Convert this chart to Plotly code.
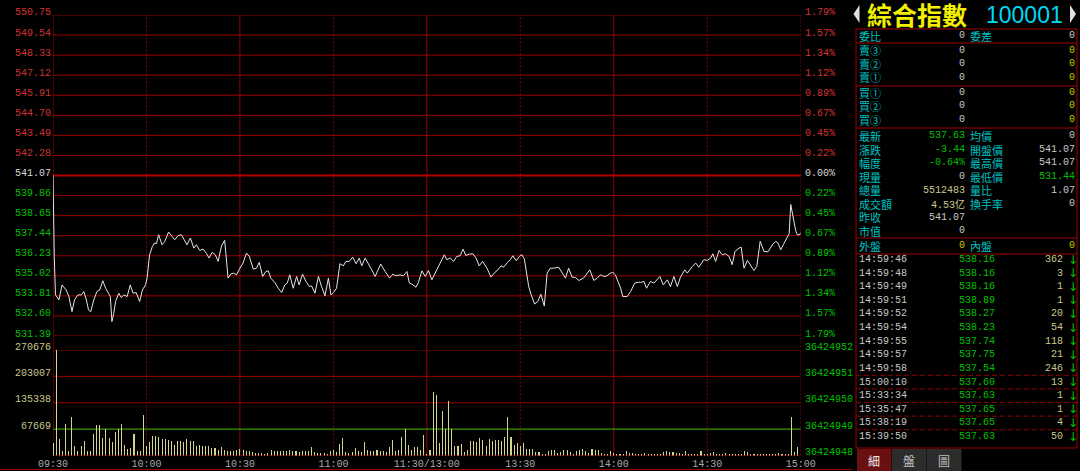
import plotly.graph_objects as go

W, H = 1080, 471


def px(x):
    return x / W


def py(y):
    return 1 - y / H


# ---------------- data ----------------
prev_close = 541.07

price_minutes = [
    0, 0.1, 0.4, 0.8, 1.2, 1.9, 2.9, 4.2, 5.1, 6.1, 6.9, 8.0, 9.1, 9.9, 10.7, 11.4, 12.1, 13.1, 14.1, 15.0,
    16.0, 16.9, 17.8, 18.4, 18.9, 19.5, 20.1, 21.1, 21.9, 22.8, 23.8, 24.8, 25.7, 26.7, 27.8, 28.7, 29.7,
    30.2, 31.0, 31.9, 32.6, 33.2, 33.9, 35.0, 35.9, 37.1, 38.2, 39.1, 40.1, 41.2, 42.1, 43.0, 44.1, 45.2,
    46.0, 47.1, 48.2, 49.2, 50.1, 51.1, 52.1, 53.0, 54.1, 55.1, 56.2, 57.1, 58.0, 58.9, 60.0, 61.0, 62.1,
    63.0, 64.3, 65.3, 66.2, 67.3, 68.3, 69.1, 69.9, 71.2, 72.3, 73.4, 74.4, 75.2, 76.0, 77.1, 78.2, 79.0,
    80.1, 81.2, 82.3, 83.0, 84.1, 85.2, 86.2, 87.3, 88.4, 89.2, 90.0, 91.0, 92.1, 93.2, 94.0, 95.1, 96.2,
    97.3, 98.3, 99.1, 100.2, 101.2, 102.3, 103.4, 104.4, 105.2, 106.6, 108.0, 109.1, 110.1, 111.4, 112.5,
    113.6, 114.4, 115.2, 116.5, 117.3, 118.4, 119.5, 120.5, 121.6, 123.0, 124.3,
    125.6, 126.4, 127.5, 128.6, 129.6, 130.7, 131.6, 132.5, 133.7, 134.8, 135.8, 136.8, 137.9, 139.3,
    140.6, 141.6, 142.8, 143.8, 144.6, 145.9, 146.8, 147.6, 148.7, 149.7, 150.5, 151.3, 152.7, 153.5,
    154.6, 155.6, 156.6, 157.7, 158.6, 159.6, 160.7, 162.3, 164.5, 165.5, 166.6, 167.7, 168.8, 170.3,
    172.3, 173.6, 174.7, 175.7, 176.8, 177.8, 178.9, 179.7, 180.5, 182.2, 182.9, 184.3, 185.4, 186.7,
    188.0, 188.6, 189.7, 190.5, 191.8, 192.9, 193.9, 194.8, 195.9, 197.2, 198.2, 199.3, 200.4, 201.4,
    202.8, 203.6, 205.2, 206.3, 207.3, 208.9, 210.0, 211.1, 211.8, 212.7, 213.8, 214.8, 215.9, 217.0,
    218.0, 218.9, 220.2, 220.9, 221.8, 222.9, 224.5, 225.0, 225.9, 227.0, 228.2, 229.5, 230.9, 232.0,
    232.7, 233.6, 234.4, 235.7, 236.3, 236.8, 237.6, 238.4, 238.9, 239.7, 240,
]

price_values = [
    541.07, 539.72, 536.19, 533.87, 533.77, 533.57, 534.47, 534.17, 533.77, 532.86, 533.57, 533.87, 533.87,
    534.07, 533.57, 532.96, 532.86, 533.57, 534.07, 534.17, 534.72, 534.27, 533.97, 533.77, 532.26, 532.76,
    533.47, 533.97, 533.71, 533.87, 533.77, 534.47, 533.97, 534.01, 533.47, 534.17, 534.47, 534.88, 536.29,
    536.79, 537.00, 536.96, 537.50, 536.89, 537.10, 537.66, 537.40, 537.20, 537.44, 537.50, 537.20, 536.89,
    537.30, 536.69, 536.89, 536.55, 536.63, 536.39, 536.09, 536.43, 536.29, 535.89, 536.83, 537.16, 534.88,
    535.14, 535.18, 535.08, 535.48, 535.79, 536.39, 536.19, 535.42, 535.48, 535.83, 534.98, 535.28, 535.32,
    534.88, 534.62, 534.27, 534.01, 534.47, 534.58, 535.08, 534.27, 534.98, 534.47, 535.12, 534.68, 534.37,
    534.41, 533.97, 534.98, 534.37, 533.81, 534.88, 533.87, 534.01, 534.27, 535.75, 535.62, 535.89, 535.89,
    536.15, 535.75, 536.09, 535.62, 536.09, 535.79, 535.38, 534.98, 535.38, 535.73, 535.28, 534.88, 535.12,
    535.02, 535.08, 535.02, 535.28, 534.58, 534.52, 534.33, 534.62, 535.32, 534.98, 535.34, 534.78, 535.28,
    535.79,
    536.29, 535.99, 536.09, 535.89, 536.19, 536.23, 536.63, 536.25, 536.33, 536.35, 536.09, 535.62, 535.89,
    535.48, 534.94, 535.18, 535.38, 535.62, 535.54, 535.83, 535.99, 536.23, 535.93, 536.19, 536.29, 536.03,
    534.37, 533.87, 533.32, 533.47, 533.91, 533.20, 535.18, 535.48, 535.48, 535.54, 534.88, 535.48, 534.94,
    534.92, 534.74, 534.88, 535.38, 534.74, 534.88, 535.08, 534.98, 535.02, 535.18, 535.22, 535.08, 534.27,
    533.77, 533.77, 534.07, 534.58, 534.64, 534.62, 534.68, 534.27, 534.68, 534.58, 534.82, 534.98, 534.47,
    534.78, 534.37, 534.98, 534.37, 534.94, 535.38, 535.18, 535.58, 535.79, 535.54, 535.99, 535.95, 536.09,
    536.35, 535.89, 536.55, 536.29, 536.35, 536.19, 535.69, 536.49, 536.69, 536.75, 535.48, 535.95, 535.48,
    535.34, 535.58, 537.10, 536.49, 536.47, 536.89, 537.10, 537.00, 536.59, 536.89, 537.30, 537.56, 539.32,
    538.45, 537.74, 537.50, 537.50, 537.63,
]

volumes = [
    32300, 270676, 43400, 12800, 81700, 12800, 97900, 23800, 11100, 25500,
    36600, 12800, 12800, 56200, 77400, 77400, 45100, 68100, 45100, 34000,
    60400, 68100, 81700, 28100, 17900, 19600, 56200, 11100, 12800, 104700,
    25500, 34000, 49400, 49400, 46800, 43400, 43400, 40800, 38300, 28100,
    38300, 36600, 34000, 43400, 36600, 38300, 23800, 28100, 23800, 23800,
    23800, 19600, 19600, 15300, 21300, 15300, 11100, 11100, 11100, 13600,
    17900, 13600, 12800, 11100, 8500, 6800, 6800, 6800, 5100, 6800,
    13600, 11100, 12800, 12800, 11100, 11100, 13600, 12800, 11100, 9400,
    11100, 11100, 12800, 22100, 8500, 6800, 6800, 6800, 5100, 12800,
    13600, 8500, 30600, 45100, 8500, 6800, 8500, 19600, 11100, 8500,
    34900, 15300, 11100, 11100, 13600, 12800, 11100, 8500, 22100, 39100,
    11100, 13600, 47700, 68100, 28100, 13600, 22100, 22100, 13600, 51900,
    5100, 15300, 162500, 154000, 32300, 114900, 68900, 138700, 68900, 23800,
    25500, 30600, 8500, 13600, 36600, 38300, 34000, 45100, 39100, 23800,
    43400, 38300, 40800, 40800, 36600, 47700, 97900, 47700, 28100, 32300,
    25500, 32300, 17000, 17900, 17900, 8500, 8500, 4300, 2600, 12800,
    13600, 13600, 6800, 8500, 15300, 15300, 9400, 4300, 11100, 13600,
    17900, 11100, 6800, 17900, 13600, 15300, 6800, 4300, 5100, 11100,
    6800, 5100, 4300, 5100, 11100, 6800, 6800, 5100, 5100, 4300,
    6800, 4300, 5100, 4300, 4300, 5100, 8500, 11100, 8500, 9400,
    6800, 6800, 4300, 11100, 5100, 4300, 5100, 5100, 11100, 5100,
    5100, 6800, 8500, 4300, 5100, 4300, 6800, 4300, 5100, 5100,
    4300, 5100, 11100, 8500, 5100, 5100, 4300, 5100, 5100, 4300,
    5100, 4300, 5100, 6800, 4300, 5100, 4300, 98700, 8500, 22100,
]

price_ticks = [550.75, 549.54, 548.33, 547.12, 545.91, 544.70, 543.49, 542.28, 541.07,
               539.86, 538.65, 537.44, 536.23, 535.02, 533.81, 532.60, 531.39]
vol_ticks = [270676, 203007, 135338, 67669, 0]
vol_right_labels = ["36424952", "36424951", "36424950", "36424949", "36424948"]
time_tick_minutes = [0, 30, 60, 90, 120, 150, 180, 210, 240]
time_tick_labels = ["09:30", "10:00", "10:30", "11:00", "11:30/13:00", "13:30", "14:00", "14:30", "15:00"]

title_name = "綜合指數"
title_code = "100001"

order_rows = [("委比", "0", "委差", "0")]
sell_rows = [("賣③", "0", "0"), ("賣②", "0", "0"), ("賣①", "0", "0")]
buy_rows = [("買①", "0", "0"), ("買②", "0", "0"), ("買③", "0", "0")]
info_rows = [
    ("最新", "537.63", "green", "均價", "0", "gray"),
    ("漲跌", "-3.44", "green", "開盤價", "541.07", "gray"),
    ("幅度", "-0.64%", "green", "最高價", "541.07", "gray"),
    ("現量", "0", "gray", "最低價", "531.44", "green"),
    ("總量", "5512483", "khaki", "量比", "1.07", "gray"),
    ("成交額", "4.53亿", "khaki", "換手率", "0", "gray"),
    ("昨收", "541.07", "gray", "", "", "gray"),
    ("市值", "0", "gray", "", "", "gray"),
]
side_row = ("外盤", "0", "內盤", "0")

tick_times = ["14:59:46", "14:59:48", "14:59:49", "14:59:51", "14:59:52", "14:59:54", "14:59:55",
              "14:59:57", "14:59:58", "15:00:10", "15:33:34", "15:35:47", "15:38:19", "15:39:50"]
tick_prices = [538.16, 538.16, 538.16, 538.89, 538.27, 538.23, 537.74, 537.75, 537.54,
               537.60, 537.63, 537.65, 537.65, 537.63]
tick_vols = [362, 3, 1, 1, 20, 54, 118, 21, 246, 13, 1, 1, 4, 50]

tabs = ["細", "盤", "圖"]

# ---------------- styles ----------------
MONO = "Liberation Mono"
CJK = "Noto Sans CJK TC"
GRID = "#9a0000"
RED = "#d23232"
GREEN = "#00c000"
GRAYT = "#c8c8c8"
KHAKI = "#c8c88c"
YELLOW = "#c8c800"
CYAN = "#00c0c0"
COLORS = {"green": GREEN, "gray": GRAYT, "khaki": KHAKI, "yellow": YELLOW}


def side_color(v):
    if v > prev_close + 1e-9:
        return RED
    if v < prev_close - 1e-9:
        return GREEN
    return "#d8d8d8"


fig = go.Figure()
fig.add_trace(go.Bar(
    x=list(range(len(volumes))), y=volumes, xaxis="x", yaxis="y2", width=0.34,
    marker=dict(color="#d4d48e", line=dict(width=0)), hoverinfo="skip"))
fig.add_trace(go.Scatter(
    x=price_minutes, y=price_values, xaxis="x", yaxis="y", mode="lines",
    line=dict(color="#e6e6e6", width=1), hoverinfo="skip"))

ann = []
shapes = []


def text(x, y, s, color, size=10, family=MONO, xanchor="left", yref="paper", yshift=0):
    ann.append(dict(x=px(x), y=(py(y) if yref == "paper" else y), xref="paper", yref=yref,
                    text=s, showarrow=False, xanchor=xanchor, yanchor="middle", yshift=yshift,
                    font=dict(family=family, size=size, color=color), borderpad=0))


def hline(y, x0, x1, color=GRID, width=1, dash="solid"):
    shapes.append(dict(type="line", xref="paper", yref="paper", x0=px(x0), x1=px(x1),
                       y0=py(y), y1=py(y), line=dict(color=color, width=width, dash=dash)))


def vline(x, y0, y1, color=GRID, width=1, dash="solid"):
    shapes.append(dict(type="line", xref="paper", yref="paper", x0=px(x), x1=px(x),
                       y0=py(y0), y1=py(y1), line=dict(color=color, width=width, dash=dash)))


# horizontal grid lines on the price and volume scales
for t in price_ticks:
    shapes.append(dict(type="line", xref="paper", yref="y", x0=px(53), x1=px(800.7), y0=t, y1=t,
                       layer="below", line=dict(color=GRID, width=1)))
for v in vol_ticks:
    shapes.append(dict(type="line", xref="paper", yref="y2", x0=px(53), x1=px(800.7), y0=v, y1=v,
                       layer="below", line=dict(color=GRID, width=1)))

# price axis labels
for t in price_ticks:
    c = side_color(t)
    text(51.5, t, f"{t:.2f}", c, yref="y", xanchor="right", yshift=2)
    pct = abs(t - prev_close) / prev_close * 100
    text(803.5, t, f"{pct:.2f}%", c, yref="y", xanchor="left", yshift=2)

# volume axis labels
for v in vol_ticks[:-1]:
    text(51.5, v, f"{v}", KHAKI, yref="y2", xanchor="right", yshift=3)
for v, lab in zip(vol_ticks, vol_right_labels):
    text(803.5, v, lab, GREEN, yref="y2", xanchor="left", yshift=3)

# vertical grid lines (solid at whole hours from open, dotted at half hours / right edge)
for i, m in enumerate(time_tick_minutes):
    solid = (i % 2 == 0) and i < len(time_tick_minutes) - 1
    shapes.append(dict(type="line", xref="x", yref="paper", x0=m, x1=m, y0=py(455.5), y1=py(15),
                       layer="below",
                       line=dict(color=GRID, width=1, dash="solid" if solid else "2px,2px")))

# previous close emphasised line
shapes.append(dict(type="line", xref="paper", yref="y", x0=px(53), x1=px(800.7), y0=prev_close,
                   y1=prev_close, layer="below", line=dict(color="#b40000", width=2)))
# quarter volume line
shapes.append(dict(type="line", xref="paper", yref="y2", x0=px(53), x1=px(800.7), y0=vol_ticks[3],
                   y1=vol_ticks[3], layer="below", line=dict(color="#00c000", width=1)))
# bottom frame line
hline(469.5, 0, 853)

# ---------------- right panel ----------------
PL, PR = 856, 1077
for yy in [29, 43, 86, 128, 238, 254, 448]:
    hline(yy, PL, PR, color="#a00000")
vline(PL, 29, 448, color="#a00000")
vline(PR, 29, 448, color="#a00000")

# title arrows
shapes.append(dict(type="path", xref="paper", yref="paper",
                   path=f"M {px(859.5)},{py(5)} L {px(853.5)},{py(14)} L {px(859.5)},{py(23)} Z",
                   fillcolor="#e0e0e0", line=dict(width=0)))
shapes.append(dict(type="path", xref="paper", yref="paper",
                   path=f"M {px(1070)},{py(5)} L {px(1076)},{py(14)} L {px(1070)},{py(23)} Z",
                   fillcolor="#e0e0e0", line=dict(width=0)))
text(866, 14, f"<b>{title_name}</b>", "#f0f000", size=25, family=CJK)
text(985, 15, title_code, "#00d8f0", size=23, family="Liberation Sans")

L1, V1, L2, V2 = 858, 965.5, 969, 1075.5
for (a, b, c, d) in order_rows:
    text(L1, 36, a, CYAN, size=11, family=CJK)
    text(V1, 36, b, GRAYT, xanchor="right")
    text(L2, 36, c, CYAN, size=11, family=CJK)
    text(V2, 36, d, GRAYT, xanchor="right")

for i, (a, b, d) in enumerate(sell_rows):
    y = 50.5 + 13.5 * i
    text(L1, y, a, CYAN, size=11, family=CJK)
    text(V1, y, b, GRAYT, xanchor="right")
    text(V2, y, d, YELLOW, xanchor="right")

for i, (a, b, d) in enumerate(buy_rows):
    y = 92.5 + 13.5 * i
    text(L1, y, a, CYAN, size=11, family=CJK)
    text(V1, y, b, GRAYT, xanchor="right")
    text(V2, y, d, YELLOW, xanchor="right")

for i, (a, b, bc, c, d, dc) in enumerate(info_rows):
    y = 136 + 13.5 * i
    text(L1, y, a, CYAN, size=11, family=CJK)
    if b.endswith("亿"):
        text(V1, y, b[:-1] + f"<span style='font-family:{CJK}'>亿</span>", COLORS[bc], xanchor="right")
    else:
        text(V1, y, b, COLORS[bc], xanchor="right")
    if c:
        text(L2, y, c, CYAN, size=11, family=CJK)
    if d:
        text(V2, y, d, COLORS[dc], xanchor="right")

a, b, c, d = side_row
text(L1, 245.5, a, CYAN, size=11, family=CJK)
text(V1, 245.5, b, YELLOW, xanchor="right")
text(L2, 245.5, c, CYAN, size=11, family=CJK)
text(V2, 245.5, d, YELLOW, xanchor="right")

ROW0, ROWH = 259.5, 13.62
for i, (tm, pr, vo) in enumerate(zip(tick_times, tick_prices, tick_vols)):
    y = ROW0 + ROWH * i
    text(858, y, tm, GRAYT)
    text(996, y, f"{pr:.2f}", side_color(pr), xanchor="right")
    text(1063.5, y, str(vo), KHAKI, xanchor="right")
    text(1072.5, y, "↓", GREEN, size=12, family="DejaVu Sans", xanchor="center")
    if i + 1 < len(tick_times) and tick_times[i][:5] != tick_times[i + 1][:5]:
        hline(y + ROWH / 2, PL, PR, color="#900000", dash="5px,3px")

# tabs
for i, tb in enumerate(tabs):
    x0 = 857 + 35 * i
    shapes.append(dict(type="rect", xref="paper", yref="paper", x0=px(x0), x1=px(x0 + 34.5),
                       y0=py(471), y1=py(449), fillcolor="#6a1010" if i == 0 else "#2c2c2c",
                       line=dict(width=0)))
    text(x0 + 17, 460, tb, "#f0f0f0" if i == 0 else "#c0c0c0", size=12, family=CJK, xanchor="center")

fig.update_layout(
    width=W, height=H, margin=dict(l=0, r=0, t=0, b=0, pad=0, autoexpand=False),
    paper_bgcolor="black", plot_bgcolor="rgba(0,0,0,0)", showlegend=False, bargap=0,
    xaxis=dict(domain=[px(53), px(800.7)], range=[0, 240], anchor="y2", automargin=False,
               tickvals=time_tick_minutes, ticktext=time_tick_labels,
               tickfont=dict(family=MONO, size=10, color="#a8a8a8"),
               showgrid=False, zeroline=False, showline=False, ticks="", fixedrange=True),
    yaxis=dict(domain=[py(336), py(15)], range=[price_ticks[-1], price_ticks[0]], automargin=False,
               showticklabels=False, showgrid=False, zeroline=False, showline=False, ticks=""),
    yaxis2=dict(domain=[py(455.5), py(350)], range=[0, vol_ticks[0]], automargin=False,
                showticklabels=False, showgrid=False, zeroline=False, showline=False, ticks=""),
    annotations=ann, shapes=shapes,
)

fig.write_html(
    "out.html",
    config={"displayModeBar": False, "staticPlot": True},
    post_script="document.body.style.margin='0';document.body.style.padding='0';"
                "document.body.style.background='black';document.body.style.overflow='hidden';",
)
